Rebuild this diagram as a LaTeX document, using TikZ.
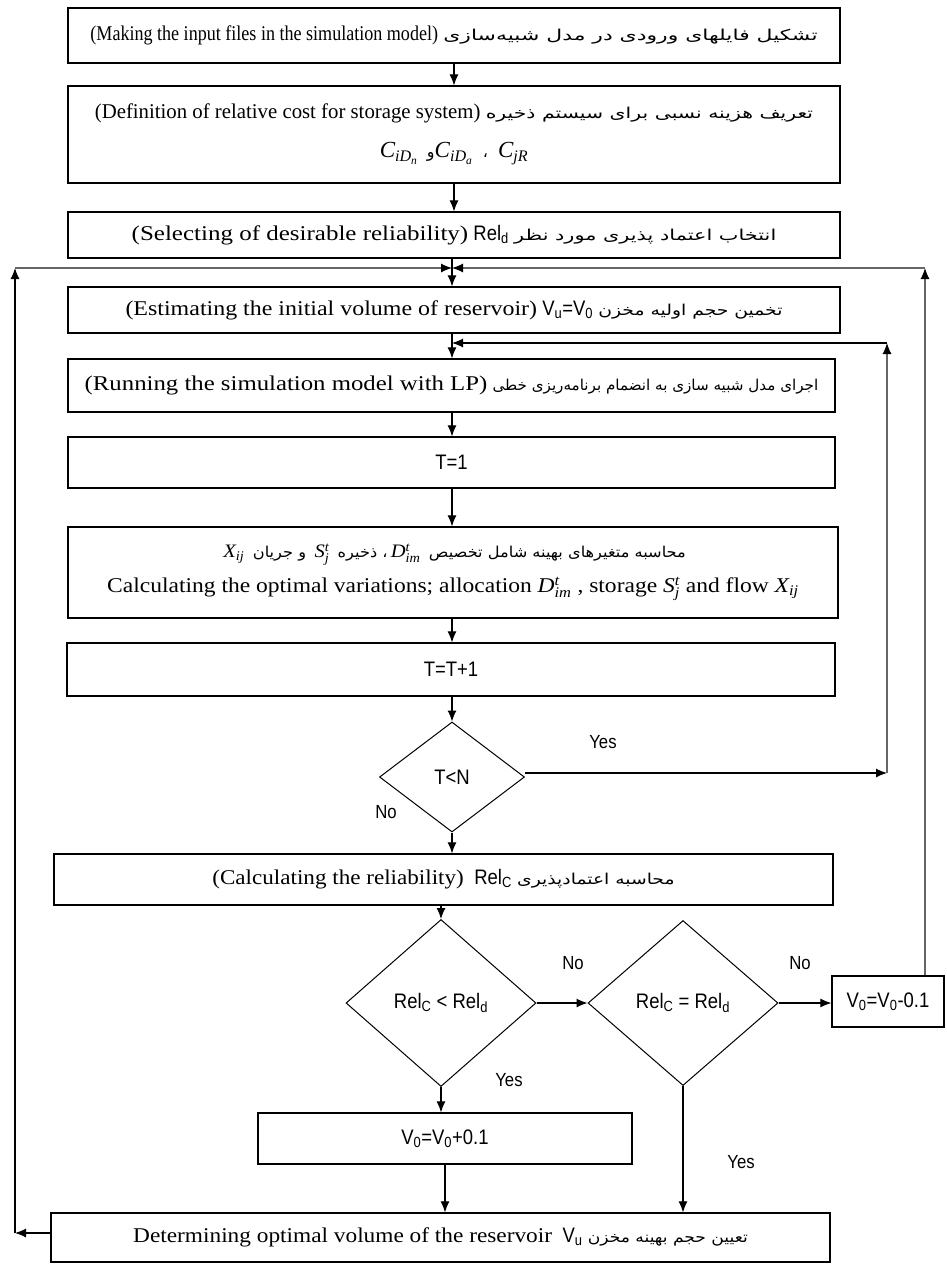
\documentclass[tikz,border=0pt]{standalone}
\usepackage{graphicx}
\usepackage{fontspec}
\setmainfont{Liberation Serif}
\newfontfamily\nsans{Liberation Sans}[FakeStretch=0.88]
\newfontfamily\fa{DejaVu Sans}[Script=Arabic]
\TeXXeTstate=1
\usetikzlibrary{arrows.meta,shapes.geometric}
\newcommand\en[2]{\scalebox{#1}[1]{#2}}
\newcommand\fatext[2]{\scalebox{#1}[1]{\fa\fontsize{15}{18}\selectfont #2}}
\newcommand\fachar[1]{{\fa\fontsize{16}{19}\selectfont #1}}
\newcommand\snsub[2]{{\nsans\fontsize{21}{24}\selectfont #1\textsubscript{#2}}}
\newcommand\mi[1]{\mathit{#1}}
\newcommand\bigmath[1]{\hspace{3pt}{\fontsize{19}{23}\selectfont$#1$}\hspace{3pt}}
\tikzset{
  box/.style={draw, line width=1.2pt, inner sep=0pt, align=center,
    font=\fontsize{21}{25}\selectfont},
  sbox/.style={box, font=\nsans\fontsize{21}{24}\selectfont},
  dia/.style={draw, diamond, line width=1pt, inner sep=0pt,
    font=\nsans\fontsize{21}{24}\selectfont},
  arr/.style={-{Latex[length=11pt,width=9pt]}, line width=1.1pt},
  loopline/.style={-{Latex[length=11pt,width=9pt,color=black]}, line width=1.1pt, draw=black!60},
  lbl/.style={font=\nsans\fontsize{19}{22}\selectfont, inner sep=0pt},
}
\begin{document}
\begin{tikzpicture}[x=1pt,y=-1pt]
\useasboundingbox (0,0) rectangle (946,1264);
\fill[white] (0,0) rectangle (946,1264);
\coordinate (col) at (452,0);

\node[box, minimum width=772pt, minimum height=55pt] (b1) at (454,35.5)
  {\en{0.86}{(Making the input files in the simulation model)} \fatext{1.46}{\beginR تشکیل فایلهای ورودی در مدل شبیه‌سازی\endR}};
\node[box, minimum width=772pt, minimum height=97pt] (b2) at (454,134.5)
  {\en{0.99}{(Definition of relative cost for storage system)} \fatext{1.36}{\beginR تعریف هزینه نسبی برای سیستم ذخیره\endR}\\[14pt]
   {\fontsize{23}{26}\selectfont$\mi{C}_{\mi{iD}_{\mi{n}}}$\hspace{9pt}\fachar{\beginR و\endR}$\mi{C}_{\mi{iD}_{\mi{a}}}$\hspace{10pt}\fachar{\beginR ،\endR}\hspace{10pt}$\mi{C}_{\mi{jR}}$}};
\node[box, minimum width=772pt, minimum height=46pt] (b3) at (454,235)
  {\en{1.19}{(Selecting of desirable reliability)} \snsub{Rel}{d} \fatext{1.39}{\beginR انتخاب اعتماد پذیری مورد نظر\endR}};
\node[box, minimum width=772pt, minimum height=46pt] (b4) at (454,310)
  {\en{1.14}{(Estimating the initial volume of reservoir)} {\nsans\fontsize{21}{24}\selectfont V\textsubscript{u}=V\textsubscript{0}} \fatext{1.25}{\beginR تخمین حجم اولیه مخزن\endR}};
\node[box, minimum width=767pt, minimum height=53pt] (b5) at (451.5,385.5)
  {\en{1.18}{(Running the simulation model with LP)} \fatext{1.01}{\beginR اجرای مدل شبیه سازی به انضمام برنامه‌ریزی خطی\endR}};
\node[sbox, minimum width=767pt, minimum height=51pt] (b6) at (451.5,462.5) {T=1};
\node[box, minimum width=770pt, minimum height=91pt] (b7) at (453,572.5)
  {\fatext{1.08}{\beginR محاسبه متغیرهای بهینه شامل تخصیص \beginL\bigmath{\mi{D}^{\mi{t}}_{\mi{im}}}\endL، ذخیره \beginL\bigmath{\mi{S}^{\mi{t}}_{\mi{j}}}\endL{} و جریان \beginL\bigmath{\mi{X}_{\mi{ij}}}\endL\endR}\\[10pt]
   \en{1.12}{Calculating the optimal variations; allocation $\mi{D}^{\mi{t}}_{\mi{im}}$ , storage $\mi{S}^{\mi{t}}_{\mi{j}}$ and flow $\mi{X}_{\mi{ij}}$}};
\node[sbox, minimum width=768pt, minimum height=53pt] (b8) at (451,669.5) {T=T+1};
\node[dia, minimum width=145pt, minimum height=110pt] (d1) at (452,777) {T<N};
\node[box, minimum width=779pt, minimum height=51pt] (b9) at (443.5,879.5)
  {\en{1.10}{(Calculating the reliability)}\ \ \snsub{Rel}{C} \fatext{1.25}{\beginR محاسبه اعتمادپذیری\endR}};
\node[dia, minimum width=190pt, minimum height=167pt] (d2) at (441,1003)
  {Rel\textsubscript{C} < Rel\textsubscript{d}};
\node[dia, minimum width=190pt, minimum height=165pt] (d3) at (683,1003)
  {Rel\textsubscript{C} = Rel\textsubscript{d}};
\node[sbox, minimum width=112pt, minimum height=51pt] (b10) at (888,1001.5)
  {V\textsubscript{0}=V\textsubscript{0}-0.1};
\node[sbox, minimum width=374pt, minimum height=51pt] (b11) at (445,1138.5)
  {V\textsubscript{0}=V\textsubscript{0}+0.1};
\node[box, minimum width=779pt, minimum height=49pt] (b12) at (440.5,1237.5)
  {\en{1.11}{Determining optimal volume of the reservoir}\ \ \snsub{V}{u} \fatext{1.14}{\beginR تعیین حجم بهینه مخزن\endR}};

% labels
\node[lbl] (y1) at (603,742) {Yes};
\node[lbl] (n1) at (386,812) {No};
\node[lbl] (n2) at (573,963) {No};
\node[lbl] (n3) at (800,963) {No};
\node[lbl] (y2) at (509,1080) {Yes};
\node[lbl] (y3) at (741,1162) {Yes};

% main chain
\draw[arr] (b1.south) -- (b2.north);
\draw[arr] (b2.south) -- (b3.north);
\draw[arr] (b3.south -| col) -- (b4.north -| col);
\draw[arr] (b4.south -| col) -- (b5.north -| col);
\draw[arr] (b5.south -| col) -- (b6.north -| col);
\draw[arr] (b6.south -| col) -- (b7.north -| col);
\draw[arr] (b7.south -| col) -- (b8.north -| col);
\draw[arr] (b8.south -| col) -- (d1.north);
\draw[arr] (d1.south) -- (b9.north -| d1.south);
\draw[arr] (b9.south -| d2.north) -- (d2.north);
\draw[arr] (d2.east) -- (d3.west);
\draw[arr] (d3.east) -- (b10.west |- d3.east);
\draw[arr] (d2.south) -- (d2.south |- b11.north);
\draw[arr] (b11.south) -- (b11.south |- b12.north);
\draw[arr] (d3.south) -- (d3.south |- b12.north);

% outer loops
\coordinate (J) at (452,268);
\coordinate (LT) at (15,268);
\coordinate (RT) at (925,268);
\coordinate (LB) at (15,1233);
\draw[arr] (b12.west |- LB) -- (LB);
\draw[arr] (LB) -- (LT);
\draw[loopline] (LT) -- (J);
\draw[loopline] (b10.north -| RT) -- (RT);
\draw[loopline] (RT) -- (J);

% T<N yes loop
\coordinate (YR) at (887,773);
\coordinate (YT) at (887,343);
\coordinate (J2) at (452,343);
\draw[arr] (d1.east |- YR) -- (YR);
\draw[loopline] (YR) -- (YT);
\draw[arr] (YT) -- (J2);
\end{tikzpicture}
\end{document}
